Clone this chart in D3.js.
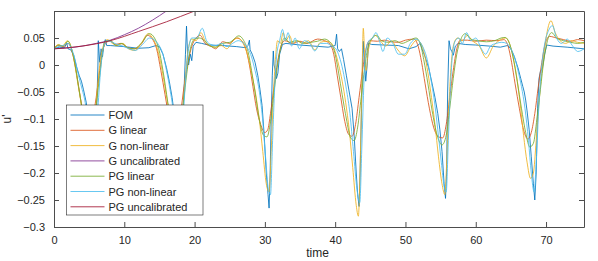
<!DOCTYPE html>
<html>
<head>
<meta charset="utf-8">
<script src="https://cdn.jsdelivr.net/npm/d3@7"></script>
<style>
  body { margin: 0; background: #fff; }
  text { font-family: "Liberation Sans", Arial, sans-serif; }
</style>
</head>
<body>
<div id="chart"></div>
<script>
// ---- data ----
const xTicks = [0, 10, 20, 30, 40, 50, 60, 70];
const yTicks = [-0.3, -0.25, -0.2, -0.15, -0.1, -0.05, 0, 0.05];

const fomT = [0,0.8,1.5,1.8,2.0,2.4,2.8,3.2,3.6,3.9,4.2,4.6,5.0,5.5,5.9,6.1,6.25,6.3,6.5,6.7,6.9,7.1,7.3,7.5,8,10,12,13.5,14.5,15.0,15.5,16.0,16.4,16.8,17.2,17.6,17.9,18.3,18.55,18.7,18.85,19.0,19.15,19.4,19.6,19.8,20.2,21,22,24,26,27.3,27.6,27.8,27.9,28.2,28.6,29.0,29.3,29.6,29.9,30.2,30.45,30.6,30.75,30.9,31.05,31.2,31.3,31.5,31.65,31.85,32.1,32.5,33,35,37,39,40.0,40.2,40.35,40.6,40.9,41.2,41.6,42.0,42.4,42.7,43.0,43.2,43.4,43.55,43.75,43.9,44.0,44.15,44.35,44.55,44.75,45.2,47,49,50.5,51.5,52.1,52.4,52.8,53.3,53.8,54.2,54.6,54.9,55.2,55.5,55.7,55.85,56.0,56.2,56.4,56.6,56.8,57.1,57.5,58.5,60,62,63.5,64.5,65.0,65.5,66.0,66.4,66.7,66.9,67.1,67.3,67.6,67.9,68.2,68.4,68.6,68.8,69.0,69.2,69.5,69.8,70.1,71,73,75.4];
const fomU = [0.031,0.033,0.032,0.041,0.030,0.028,0.018,-0.003,-0.02,-0.03,-0.046,-0.07,-0.13,-0.2,-0.15,-0.07,0.0,0.045,0.005,0.03,0.015,0.04,0.047,0.036,0.036,0.034,0.031,0.032,0.036,0.034,0.02,-0.005,-0.03,-0.06,-0.1,-0.17,-0.2,-0.1,-0.03,0.02,0.072,0.02,0.0,0.02,0.008,0.035,0.042,0.04,0.037,0.036,0.034,0.032,0.036,0.046,0.028,0.02,0.005,-0.02,-0.045,-0.075,-0.13,-0.2,-0.24,-0.265,-0.2,-0.1,-0.02,0.026,0.0,-0.01,-0.025,-0.015,0.02,0.038,0.04,0.037,0.035,0.033,0.036,0.057,0.03,0.025,0.03,0.01,-0.02,-0.05,-0.08,-0.13,-0.2,-0.24,-0.262,-0.2,-0.08,0.0,0.044,0.01,-0.03,0.0,0.04,0.038,0.037,0.036,0.03,0.034,0.04,0.028,0.015,-0.005,-0.035,-0.06,-0.09,-0.12,-0.16,-0.22,-0.247,-0.2,-0.05,0.045,0.03,0.025,0.018,0.035,0.04,0.038,0.037,0.035,0.033,0.036,0.03,0.015,-0.005,-0.025,-0.04,-0.05,-0.065,-0.085,-0.12,-0.17,-0.22,-0.25,-0.2,-0.08,-0.025,-0.012,-0.005,0.02,0.037,0.035,0.033,0.03];

const gLinT = [0,0.7,1.3,2.0,2.5,3.0,3.5,4.0,4.6,5.0,5.5,6.0,6.5,7.0,7.5,8,8.7,9.5,10.5,11.5,12.5,13.3,14,14.6,15.2,15.8,16.4,17.0,17.5,18.0,18.5,19.0,19.5,20.2,20.8,21.5,22.3,23.0,24,25,26.0,26.7,27.3,27.8,28.3,28.8,29.4,30.0,30.4,30.8,31.3,31.8,32.3,32.8,34,35,36,37.5,38.5,39.3,39.8,40.3,40.8,41.3,41.9,42.4,42.9,43.4,43.9,44.4,44.9,46,47,48,49,50,51.2,51.8,52.3,52.8,53.4,54,54.7,55.3,55.8,56.3,56.8,57.3,57.8,58.8,60,61.5,63,64,64.6,65.1,65.6,66.2,66.8,67.4,67.9,68.4,68.9,69.4,69.9,70.5,71.5,72.5,73.5,74.5,75.4];
const gLinU = [0.032,0.036,0.034,0.04,0.028,0.0,-0.04,-0.08,-0.12,-0.13,-0.1,-0.06,-0.01,0.03,0.042,0.045,0.038,0.04,0.032,0.03,0.04,0.055,0.048,0.03,-0.01,-0.055,-0.1,-0.13,-0.13,-0.09,-0.04,0.0,0.03,0.05,0.055,0.04,0.035,0.03,0.043,0.04,0.05,0.045,0.03,0.0,-0.04,-0.08,-0.11,-0.125,-0.12,-0.09,-0.04,0.005,0.035,0.045,0.04,0.044,0.04,0.048,0.045,0.038,0.02,-0.02,-0.06,-0.1,-0.128,-0.132,-0.11,-0.06,-0.01,0.03,0.045,0.044,0.046,0.043,0.042,0.046,0.048,0.035,0.005,-0.035,-0.08,-0.115,-0.133,-0.135,-0.11,-0.06,-0.01,0.03,0.046,0.046,0.044,0.046,0.045,0.047,0.035,0.005,-0.035,-0.08,-0.12,-0.137,-0.125,-0.09,-0.04,0.005,0.04,0.053,0.05,0.047,0.044,0.047,0.045];

const gNlT = [0,0.6,1.2,1.9,2.4,2.9,3.4,3.9,4.5,5.0,5.4,5.8,6.2,6.6,7.0,7.6,8.3,9.0,9.8,10.6,11.5,12.4,13.4,14.1,14.7,15.3,15.9,16.5,17.0,17.5,17.9,18.3,18.7,19.1,19.6,20.2,20.9,21.5,22.2,23.0,23.8,24.6,25.4,26.2,26.9,27.5,28.1,28.7,29.2,29.7,30.2,30.6,30.9,31.2,31.5,31.8,32.2,32.6,33.0,33.5,34.0,34.6,35.3,36.2,37.1,37.9,38.8,39.5,40.0,40.5,41.0,41.5,42.0,42.5,43.0,43.3,43.6,43.85,44.0,44.2,44.4,44.7,45.1,45.7,46.4,47.2,48,48.8,49.9,50.8,51.6,52.2,52.7,53.2,53.7,54.2,54.7,55.2,55.6,55.9,56.2,56.5,56.9,57.4,58.1,58.8,59.5,60.5,61.5,62.5,63.3,64.2,64.8,65.3,65.8,66.3,66.8,67.3,67.8,68.2,68.6,69.0,69.5,70.0,70.7,71.3,72.0,72.8,73.6,74.5,75.4];
const gNlU = [0.03,0.038,0.035,0.045,0.035,0.005,-0.035,-0.075,-0.14,-0.19,-0.17,-0.1,-0.04,0.01,0.035,0.047,0.04,0.036,0.04,0.03,0.027,0.04,0.058,0.048,0.03,-0.005,-0.05,-0.1,-0.16,-0.2,-0.17,-0.09,-0.02,0.03,0.048,0.045,0.06,0.045,0.035,0.033,0.036,0.03,0.045,0.05,0.04,0.02,-0.015,-0.055,-0.1,-0.16,-0.22,-0.235,-0.16,-0.06,0.01,0.045,0.04,0.06,0.045,0.055,0.04,0.045,0.04,0.045,0.028,0.042,0.044,0.04,0.025,0.0,-0.03,-0.07,-0.12,-0.19,-0.26,-0.28,-0.16,0.0,0.068,0.02,-0.01,0.025,0.045,0.055,0.045,0.035,0.045,0.03,0.017,0.035,0.046,0.04,0.02,-0.015,-0.06,-0.11,-0.17,-0.22,-0.24,-0.17,-0.07,0.0,0.04,0.05,0.045,0.055,0.045,0.035,0.013,0.035,0.045,0.05,0.04,0.015,-0.02,-0.07,-0.13,-0.18,-0.21,-0.2,-0.14,-0.07,0.0,0.05,0.082,0.06,0.045,0.04,0.045,0.042,0.04];

const gUncT = [0,3,6,8,10,12,14,16,18];
const gUncU = [0.03,0.033,0.04,0.046,0.056,0.068,0.083,0.1,0.118];

const pgLinT = [0,0.7,1.3,2.0,2.5,3.0,3.5,3.9,4.5,5.0,5.5,6.0,6.5,7.0,7.5,8.1,8.8,9.6,10.5,11.4,12.4,13.6,14.3,14.9,15.5,16.2,16.8,17.4,17.9,18.4,18.9,19.4,20.0,20.7,21.4,22.2,23.0,24,25,26.3,27.0,27.6,28.1,28.6,29.2,29.8,30.3,30.8,31.3,31.8,32.3,32.8,33.5,34.5,35.5,36.5,37.5,38.5,39.4,40.0,40.5,41.0,41.6,42.2,42.7,43.2,43.7,44.2,44.7,45.3,45.9,46.6,47.5,48.5,49.5,50.5,51.5,52.1,52.6,53.2,53.8,54.5,55.2,55.8,56.3,56.8,57.3,57.8,58.5,59.3,60.3,61.5,62.7,63.6,64.2,64.8,65.3,65.9,66.5,67.1,67.7,68.2,68.7,69.2,69.7,70.2,70.8,71.5,72.5,73.5,74.5,75.4];
const pgLinU = [0.03,0.037,0.035,0.044,0.03,0.0,-0.04,-0.073,-0.12,-0.14,-0.12,-0.075,-0.02,0.03,0.045,0.045,0.036,0.04,0.032,0.03,0.04,0.058,0.05,0.03,-0.01,-0.07,-0.12,-0.14,-0.12,-0.07,-0.015,0.03,0.048,0.05,0.045,0.035,0.033,0.04,0.042,0.054,0.045,0.025,-0.01,-0.05,-0.1,-0.13,-0.133,-0.105,-0.05,0.0,0.035,0.05,0.042,0.045,0.04,0.042,0.044,0.048,0.04,0.02,-0.015,-0.055,-0.1,-0.135,-0.14,-0.115,-0.06,-0.005,0.035,0.05,0.055,0.045,0.042,0.045,0.04,0.045,0.05,0.04,0.01,-0.035,-0.085,-0.13,-0.148,-0.13,-0.08,-0.025,0.02,0.045,0.058,0.048,0.045,0.043,0.045,0.05,0.051,0.04,0.015,-0.03,-0.08,-0.125,-0.152,-0.145,-0.1,-0.045,0.01,0.045,0.06,0.05,0.045,0.042,0.04,0.042];

const pgNlT = [0,0.6,1.3,2.0,2.5,3.0,3.5,4.0,4.5,5.0,5.5,5.9,6.3,6.7,7.1,7.6,8.3,9.0,9.8,10.7,11.6,12.6,13.6,14.4,15.0,15.5,16.0,16.5,17.0,17.5,17.9,18.3,18.7,19.1,19.6,20.3,21.1,21.7,22.3,23.0,23.8,24.6,25.4,26.2,27.0,27.6,28.1,28.6,29.1,29.6,30.1,30.5,30.8,31.1,31.4,31.7,32.1,32.5,32.9,33.3,33.8,34.3,34.9,35.6,36.4,37.1,37.9,38.8,39.5,40.1,40.6,41.1,41.6,42.1,42.6,43.1,43.5,43.8,44.1,44.4,44.8,45.3,45.8,46.3,46.8,47.4,48.2,49.0,49.9,50.7,51.5,52.1,52.6,53.1,53.6,54.1,54.6,55.1,55.5,55.8,56.1,56.4,56.7,57.1,57.6,58.1,58.7,59.3,60.0,60.8,61.4,62.1,62.9,63.7,64.4,65.0,65.5,66.0,66.5,67.0,67.5,67.9,68.3,68.6,69.0,69.4,69.9,70.4,70.9,71.5,72.2,73.0,73.8,74.5,75.4];
const pgNlU = [0.028,0.034,0.036,0.04,0.03,0.01,-0.02,-0.045,-0.075,-0.14,-0.2,-0.16,-0.07,0.0,0.035,0.045,0.042,0.038,0.035,0.03,0.027,0.038,0.05,0.045,0.035,0.02,-0.01,-0.045,-0.09,-0.17,-0.21,-0.12,-0.03,0.025,0.05,0.05,0.068,0.045,0.038,0.036,0.04,0.034,0.04,0.045,0.04,0.03,0.015,-0.01,-0.04,-0.09,-0.17,-0.23,-0.24,-0.14,-0.04,0.02,0.045,0.066,0.045,0.06,0.035,0.05,0.03,0.045,0.04,0.026,0.04,0.04,0.035,0.03,0.015,-0.01,-0.045,-0.09,-0.16,-0.23,-0.255,-0.15,-0.03,0.03,0.045,0.05,0.06,0.045,0.025,0.05,0.04,0.02,0.02,0.04,0.048,0.042,0.03,0.01,-0.025,-0.065,-0.12,-0.18,-0.225,-0.235,-0.14,-0.04,0.02,0.045,0.05,0.04,0.06,0.045,0.05,0.03,0.02,0.035,0.04,0.042,0.04,0.03,0.015,-0.01,-0.04,-0.08,-0.14,-0.2,-0.235,-0.18,-0.07,0.0,0.045,0.065,0.073,0.05,0.04,0.048,0.035,0.025,0.03];

const pgUncT = [0,4,8,12,16,20,22];
const pgUncU = [0.03,0.035,0.045,0.062,0.08,0.1,0.11];

const seriesNames = ["FOM", "G linear", "G non-linear", "G uncalibrated", "PG linear", "PG non-linear", "PG uncalibrated"];
const seriesColors = ["#0072BD", "#D95319", "#EDB120", "#7E2F8E", "#77AC30", "#4DBEEE", "#A2142F"];

// ---- layout ----
let w = 598, h = 261;
let margin = { top: 11, right: 14, bottom: 34, left: 54 };
let iw = w - margin.left - margin.right,
    ih = h - margin.top - margin.bottom;

let svg = d3.select("#chart")
            .append("svg")
            .attr("width", w)
            .attr("height", h);

let g = svg.append("g")
           .attr("transform", `translate(${margin.left},${margin.top})`);

let x = d3.scaleLinear().domain([0, 75.4]).range([0, iw]);
let y = d3.scaleLinear().domain([-0.3, 0.1]).range([ih, 0]);

g.append("clipPath").attr("id", "clip")
  .append("rect").attr("width", iw).attr("height", ih);

// zip time / value arrays into rows for each series
let zip = (t, u) => t.map((d, i) => ({ t: d, u: u[i] }));
let series = [
  zip(fomT, fomU), zip(gLinT, gLinU), zip(gNlT, gNlU), zip(gUncT, gUncU),
  zip(pgLinT, pgLinU), zip(pgNlT, pgNlU), zip(pgUncT, pgUncU)
];

let smooth = d3.line().x(d => x(d.t)).y(d => y(d.u)).curve(d3.curveMonotoneX);
let jagged = d3.line().x(d => x(d.t)).y(d => y(d.u));

let lineWidth = 0.85;

g.append("g").attr("clip-path", "url(#clip)")
  .selectAll("path")
  .data(d3.range(series.length))
  .enter()
  .append("path")
  .attr("d", i => i === 0 ? jagged(series[i]) : smooth(series[i]))
  .attr("fill", "none")
  .attr("stroke", i => seriesColors[i])
  .attr("stroke-width", lineWidth);

// ---- axes (box with inward ticks, like matlab) ----
let axisColor = "#4d4d4d";
let styleAxis = sel => {
  sel.select(".domain").attr("stroke", axisColor);
  sel.selectAll(".tick line").attr("stroke", axisColor);
  sel.selectAll(".tick text").attr("fill", "#262626").style("font-size", "11px");
};

g.append("g").attr("transform", `translate(0,${ih})`)
  .call(d3.axisBottom(x).tickValues(xTicks).tickSizeInner(-5).tickSizeOuter(0).tickPadding(9))
  .call(styleAxis);
g.append("g")
  .call(d3.axisTop(x).tickValues(xTicks).tickSizeInner(-5).tickSizeOuter(0).tickFormat(""))
  .call(styleAxis);
g.append("g")
  .call(d3.axisLeft(y).tickValues(yTicks).tickSizeInner(-5).tickSizeOuter(0).tickPadding(9).tickFormat(d => d === 0 ? "0" : d3.format("")(+d.toFixed(2))))
  .call(styleAxis);
g.append("g").attr("transform", `translate(${iw},0)`)
  .call(d3.axisRight(y).tickValues(yTicks).tickSizeInner(-5).tickSizeOuter(0).tickFormat(""))
  .call(styleAxis);

// axis labels
svg.append("text")
  .attr("x", margin.left + x(37.5)).attr("y", 257)
  .attr("text-anchor", "middle")
  .attr("fill", "#262626")
  .style("font-size", "12px")
  .text("time");

svg.append("text")
  .attr("transform", `translate(11,${margin.top + y(-0.1)}) rotate(-90)`)
  .attr("text-anchor", "middle")
  .attr("fill", "#262626")
  .style("font-size", "12px")
  .text("u'");

// ---- legend ----
let legend = svg.append("g").attr("transform", "translate(66.5,105)");
legend.append("rect")
  .attr("width", 136.5).attr("height", 110)
  .attr("fill", "#fff")
  .attr("stroke", "#262626")
  .attr("stroke-width", 0.6);

let items = legend.selectAll(".item")
  .data(seriesNames)
  .enter()
  .append("g")
  .attr("class", "item")
  .attr("transform", (d, i) => `translate(0,${10 + i * 15.3})`);

items.append("line")
  .attr("x1", 4).attr("x2", 38)
  .attr("stroke", (d, i) => seriesColors[i])
  .attr("stroke-width", lineWidth);

items.append("text")
  .attr("x", 42).attr("y", 4)
  .attr("fill", "#262626")
  .style("font-size", "11px")
  .text(d => d);
</script>
</body>
</html>
